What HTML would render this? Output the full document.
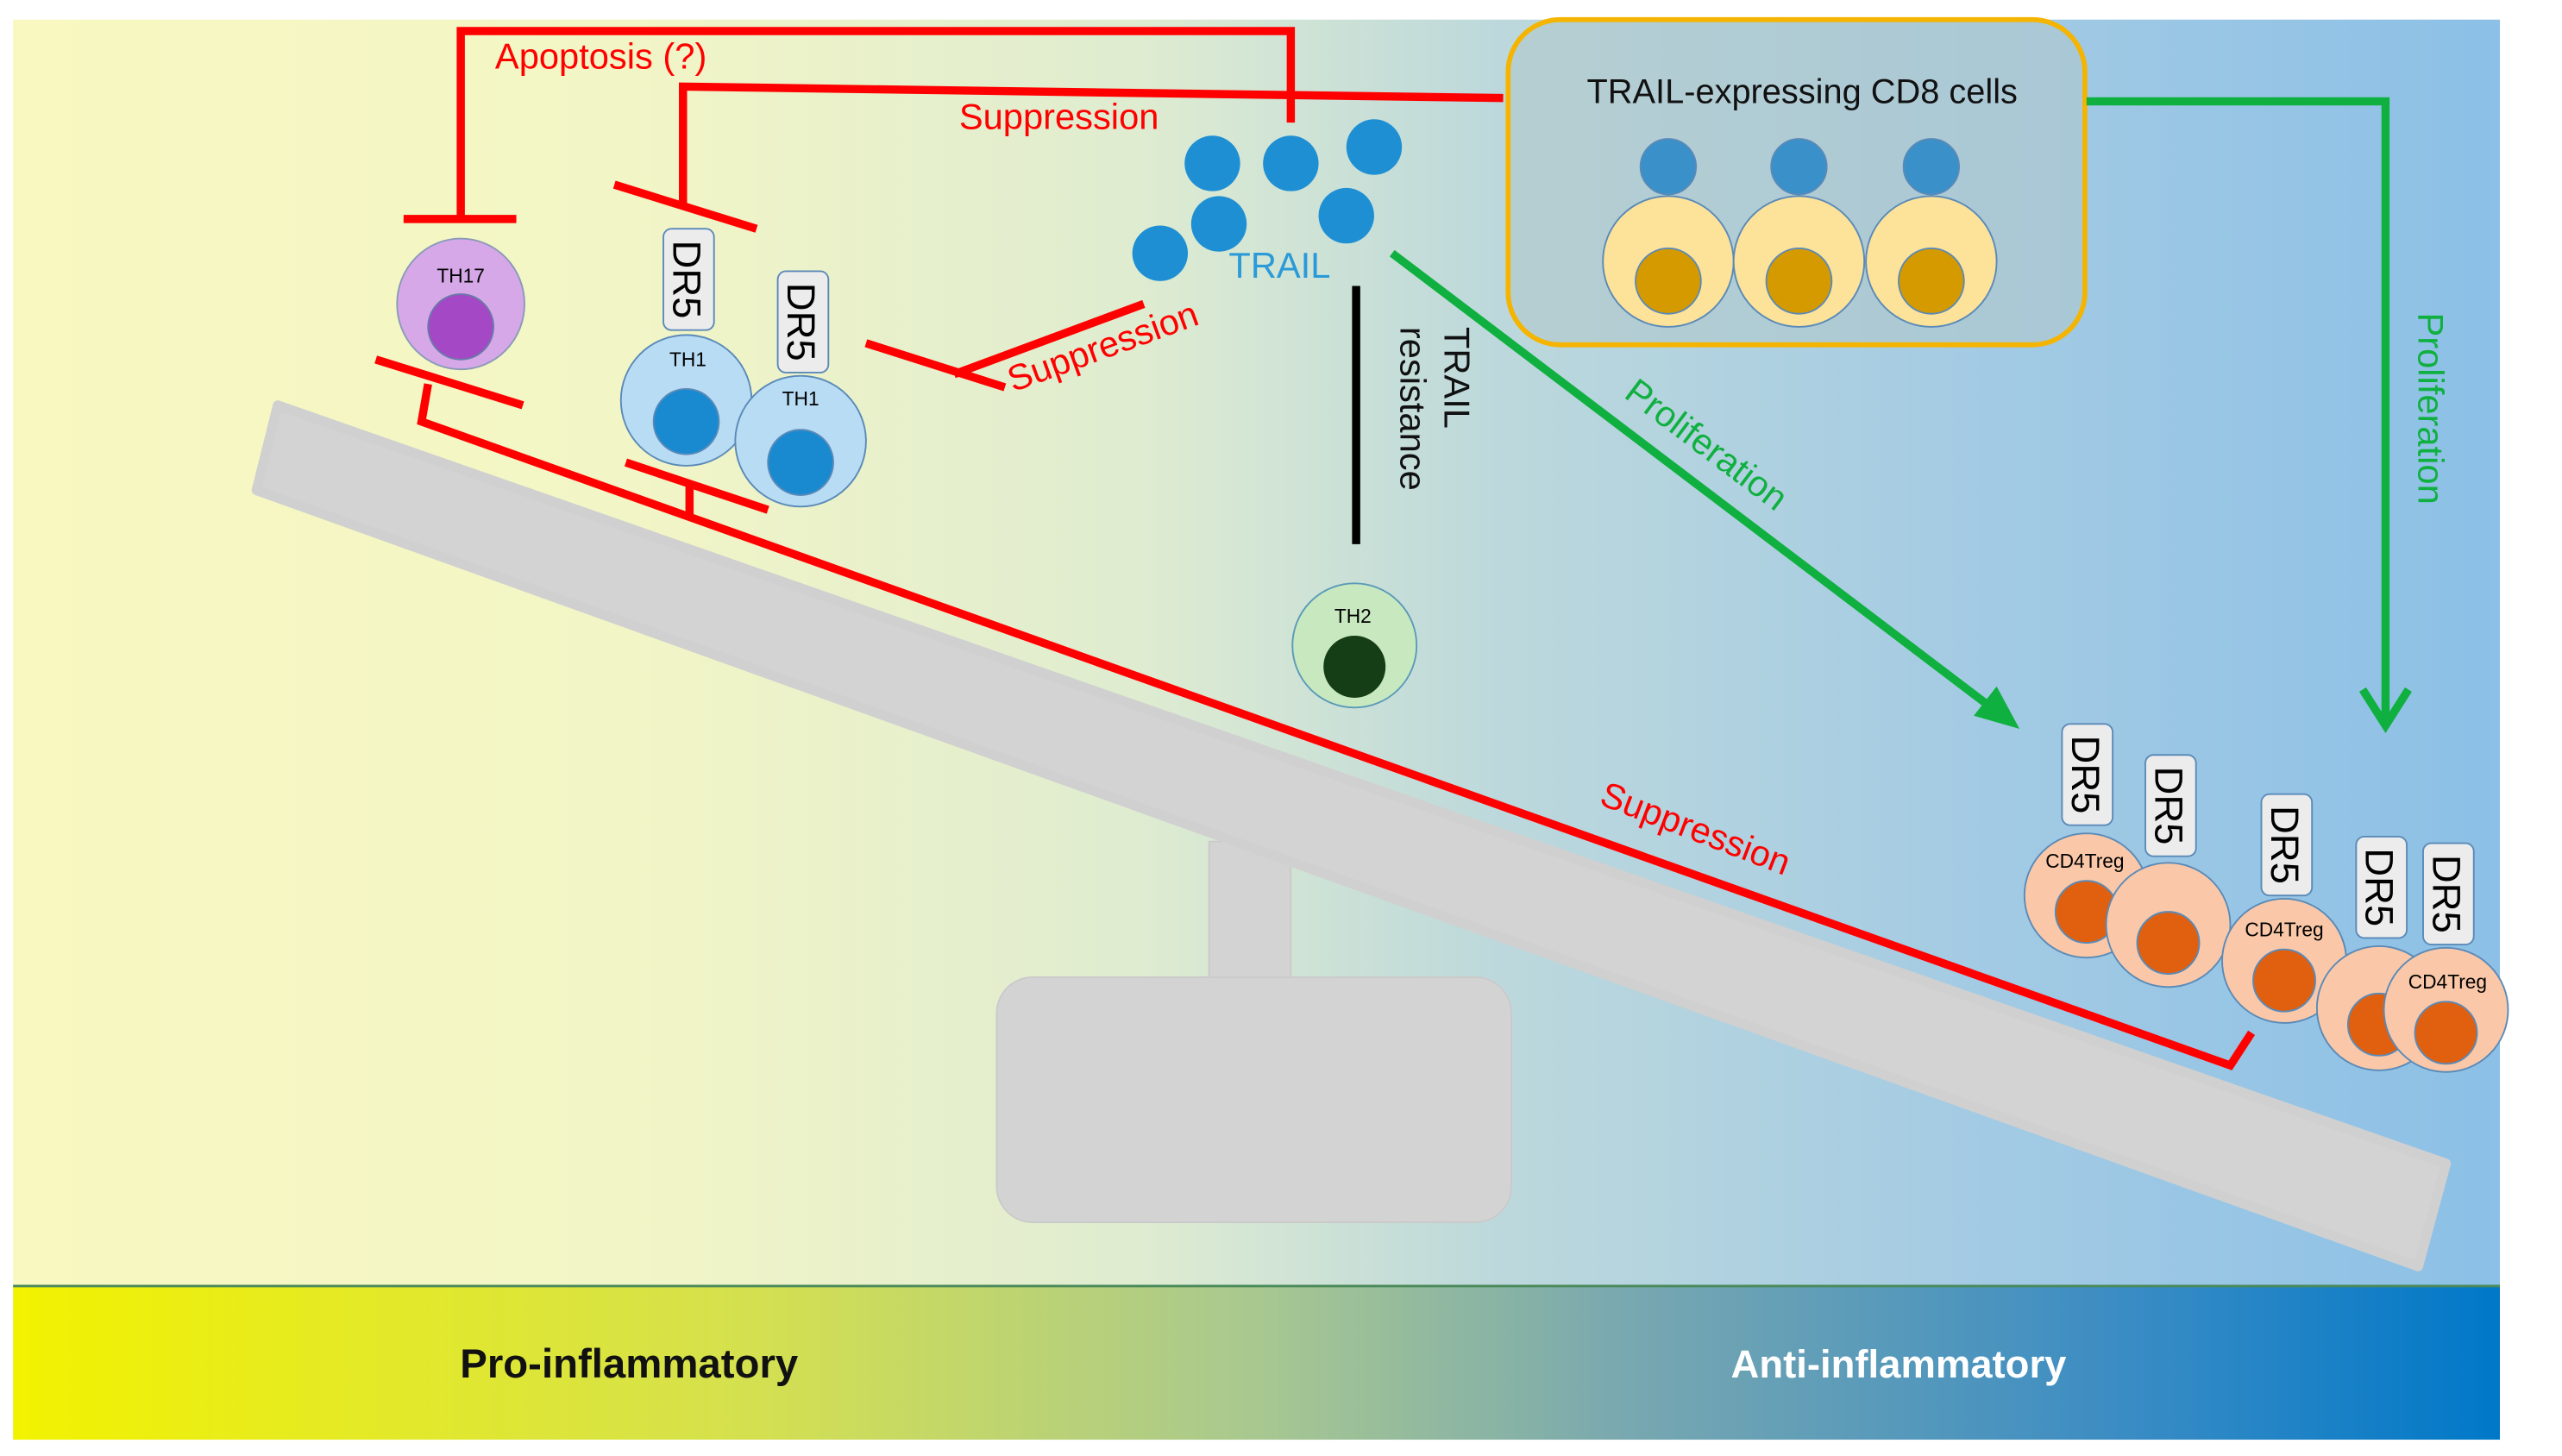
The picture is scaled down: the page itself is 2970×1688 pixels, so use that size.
<!DOCTYPE html>
<html><head><meta charset="utf-8"><style>html,body{margin:0;padding:0;background:#fff}svg{display:block}</style></head>
<body>
<svg width="2970" height="1688" viewBox="0 0 1568 891" preserveAspectRatio="none" xmlns="http://www.w3.org/2000/svg" font-family="Liberation Sans, sans-serif">
<defs>
<linearGradient id="bg" x1="0" x2="1" y1="0" y2="0">
<stop offset="0" stop-color="#f8f8c0"/><stop offset="0.25" stop-color="#f2f5c6"/><stop offset="0.45" stop-color="#dfecd0"/><stop offset="0.6" stop-color="#bcd8dc"/><stop offset="0.8" stop-color="#a2cae4"/><stop offset="1" stop-color="#8cc0e6"/></linearGradient>
<linearGradient id="band" x1="0" x2="1" y1="0" y2="0">
<stop offset="0" stop-color="#f2f200"/><stop offset="0.3" stop-color="#d4e050"/><stop offset="0.5" stop-color="#a8c890"/><stop offset="0.65" stop-color="#78a8b0"/><stop offset="0.85" stop-color="#3a8cc4"/><stop offset="1" stop-color="#0078c8"/></linearGradient>
</defs>
<rect x="8" y="12" width="1522" height="775" fill="url(#bg)"/>
<rect x="8" y="787" width="1522" height="94" fill="url(#band)"/>
<line x1="8" y1="787" x2="1530" y2="787" stroke="#4a8a5a" stroke-width="1.5"/>
<!-- seesaw -->
<rect x="740" y="515" width="50" height="88" fill="#d3d3d3" stroke="#cacaca"/>
<rect x="610" y="598" width="315" height="150" rx="22" fill="#d3d3d3" stroke="#cacaca"/>
<polygon points="170,248 1497,712 1480,775 157,300" fill="#d3d3d3" stroke="#d0d0d0" stroke-linejoin="round" stroke-width="6"/>
<!-- red lines -->
<g stroke="#ff0000" stroke-width="5" fill="none">
<polyline points="282,133 282,19 790,19 790,75"/>
<line x1="247" y1="134" x2="316" y2="134"/>
<polyline points="920,60 418,53 418,126"/>
<line x1="376" y1="113" x2="463" y2="140"/>
<line x1="700" y1="186" x2="584" y2="229"/>
<line x1="530" y1="210" x2="615" y2="237"/>
<line x1="230" y1="220" x2="320" y2="248"/>
<polyline points="262,235 258,258 1365,652 1378,632"/>
<line x1="383" y1="283" x2="470" y2="312"/>
<line x1="422" y1="298" x2="422" y2="318"/>
</g>
<g fill="#ff0000" font-size="22">
<text x="303" y="42">Apoptosis (?)</text>
<text x="587" y="79">Suppression</text>
<text x="620" y="240" transform="rotate(-20 620 240)">Suppression</text>
<text x="978" y="492" transform="rotate(21 978 492)">Suppression</text>
</g>
<!-- TRAIL -->
<g fill="#1f8fd4">
<circle cx="742" cy="100" r="17"/><circle cx="790" cy="100" r="17"/><circle cx="841" cy="90" r="17"/>
<circle cx="746" cy="137" r="17"/><circle cx="824" cy="132" r="17"/><circle cx="710" cy="155" r="17"/>
</g>
<text x="752" y="170" fill="#2a9ad8" font-size="22">TRAIL</text>
<line x1="830" y1="175" x2="830" y2="333" stroke="#000" stroke-width="5"/>
<text transform="translate(884,200) rotate(90)" font-size="22" fill="#111"><tspan x="0" y="0">TRAIL</tspan><tspan x="0" y="27">resistance</tspan></text>
<!-- TH17 -->
<ellipse cx="282" cy="186" rx="39" ry="40" fill="#d6a8e8" stroke="#8a9ab8"/>
<circle cx="282" cy="200" r="20" fill="#a448c6" stroke="#6a7aa8"/>
<text x="282" y="173" font-size="12" text-anchor="middle">TH17</text>
<!-- TH1 -->
<g stroke="#5a8ab8">
<rect x="406" y="140" width="31" height="62" rx="5" fill="#ececec"/>
<circle cx="420" cy="245" r="40" fill="#b8dcf4"/><circle cx="420" cy="258" r="20" fill="#1a8ad0"/>
<rect x="476" y="166" width="31" height="62" rx="5" fill="#ececec"/>
<circle cx="490" cy="270" r="40" fill="#b8dcf4"/><circle cx="490" cy="283" r="20" fill="#1a8ad0"/>
</g>
<text x="421" y="224" font-size="12" text-anchor="middle">TH1</text>
<text x="490" y="248" font-size="12" text-anchor="middle">TH1</text>
<text transform="translate(412,171) rotate(90)" font-size="24" text-anchor="middle">DR5</text>
<text transform="translate(482,197) rotate(90)" font-size="24" text-anchor="middle">DR5</text>
<!-- TH2 -->
<circle cx="829" cy="395" r="38" fill="#c8e8c0" stroke="#5a9ab8"/>
<circle cx="829" cy="408" r="19" fill="#163e16"/>
<text x="828" y="381" font-size="12" text-anchor="middle">TH2</text>
<!-- CD8 box -->
<rect x="923" y="12" width="353" height="199" rx="32" fill="#b0c8cc" fill-opacity="0.6" stroke="#f5b400" stroke-width="3"/>
<text x="1103" y="63" font-size="21" text-anchor="middle" fill="#111">TRAIL-expressing  CD8 cells</text>
<g stroke="#5a8ab8">
<circle cx="1021" cy="102" r="17" fill="#3a90c8"/><circle cx="1101" cy="102" r="17" fill="#3a90c8"/><circle cx="1182" cy="102" r="17" fill="#3a90c8"/>
<circle cx="1021" cy="160" r="40" fill="#fde29a"/><circle cx="1101" cy="160" r="40" fill="#fde29a"/><circle cx="1182" cy="160" r="40" fill="#fde29a"/>
<circle cx="1021" cy="172" r="20" fill="#d49a00"/><circle cx="1101" cy="172" r="20" fill="#d49a00"/><circle cx="1182" cy="172" r="20" fill="#d49a00"/>
</g>
<!-- green -->
<g stroke="#10b040" stroke-width="5" fill="none">
<polyline points="1277,62 1460,62 1460,440"/>
<polyline points="1446,422 1460,444 1474,422"/>
<line x1="852" y1="155" x2="1228" y2="440"/>
</g>
<polygon points="1236,446 1208,438 1222,420" fill="#10b040"/>
<g fill="#10b040" font-size="22">
<text transform="translate(1480,250) rotate(90)" text-anchor="middle">Proliferation</text>
<text transform="translate(1040,278) rotate(37)" text-anchor="middle">Proliferation</text>
</g>
<!-- Tregs -->
<g stroke="#5a8ab8">
<rect x="1262" y="443" width="31" height="62" rx="5" fill="#ececec"/>
<rect x="1313" y="462" width="31" height="62" rx="5" fill="#ececec"/>
<rect x="1384" y="486" width="31" height="62" rx="5" fill="#ececec"/>
<rect x="1442" y="512" width="31" height="62" rx="5" fill="#ececec"/>
<rect x="1483" y="516" width="31" height="62" rx="5" fill="#ececec"/>
<circle cx="1277" cy="548" r="38" fill="#fac8a8"/><circle cx="1277" cy="558" r="19" fill="#e06010"/>
<circle cx="1327" cy="566" r="38" fill="#fac8a8"/><circle cx="1327" cy="577" r="19" fill="#e06010"/>
<circle cx="1398" cy="588" r="38" fill="#fac8a8"/><circle cx="1398" cy="600" r="19" fill="#e06010"/>
<circle cx="1456" cy="617" r="38" fill="#fac8a8"/><circle cx="1456" cy="627" r="19" fill="#e06010"/>
<circle cx="1497" cy="618" r="38" fill="#fac8a8"/><circle cx="1497" cy="632" r="19" fill="#e06010"/>
</g>
<g font-size="12" text-anchor="middle">
<text x="1276" y="531">CD4Treg</text><text x="1398" y="573">CD4Treg</text><text x="1498" y="605">CD4Treg</text>
</g>
<g font-size="24" text-anchor="middle">
<text transform="translate(1268,474) rotate(90)">DR5</text>
<text transform="translate(1319,493) rotate(90)">DR5</text>
<text transform="translate(1390,517) rotate(90)">DR5</text>
<text transform="translate(1448,543) rotate(90)">DR5</text>
<text transform="translate(1489,547) rotate(90)">DR5</text>
</g>
<text x="385" y="843" font-size="25" font-weight="bold" text-anchor="middle" fill="#111">Pro-inflammatory</text>
<text x="1162" y="843" font-size="24" font-weight="bold" text-anchor="middle" fill="#fff">Anti-inflammatory</text>
</svg>
</body></html>
